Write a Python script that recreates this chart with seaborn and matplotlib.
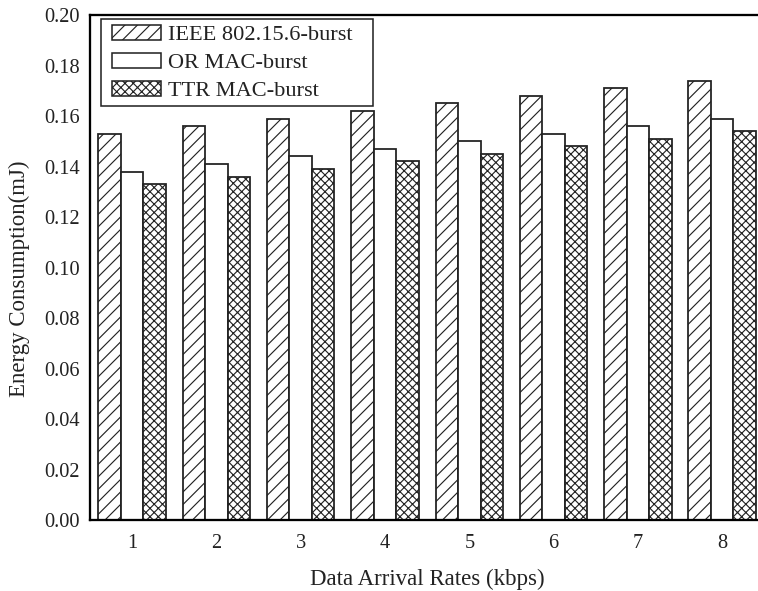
import numpy as np
import pandas as pd
import seaborn as sns
import matplotlib
matplotlib.use("Agg")
import matplotlib.pyplot as plt
from matplotlib.patches import Patch, Rectangle
from matplotlib.ticker import MultipleLocator, FormatStrFormatter

rates = ["1", "2", "3", "4", "5", "6", "7", "8"]
series_names = ["IEEE 802.15.6-burst", "OR MAC-burst", "TTR MAC-burst"]
ieee = [0.153, 0.156, 0.159, 0.162, 0.165, 0.168, 0.171, 0.174]
ormac = [0.138, 0.141, 0.144, 0.147, 0.150, 0.153, 0.156, 0.159]
ttr = [0.133, 0.136, 0.139, 0.142, 0.145, 0.148, 0.151, 0.154]
hatches = ["//", "", "xxx"]

df = pd.DataFrame({
    "rate": rates * 3,
    "energy": ieee + ormac + ttr,
    "series": sum([[s] * len(rates) for s in series_names], []),
})

sns.set_theme(style="white")
plt.rcParams["font.family"] = ["Liberation Serif", "DejaVu Serif"]
plt.rcParams["hatch.linewidth"] = 1.1
plt.rcParams["hatch.color"] = "black"

DPI = 75
W, H = 758, 591
fig = plt.figure(figsize=(W / DPI, H / DPI), dpi=DPI)
ax = fig.add_axes([0.1187, 0.1201, 0.8897, 0.8545])

sns.barplot(data=df, x="rate", y="energy", hue="series", order=rates,
            hue_order=series_names, palette=["white"] * 3, edgecolor="black",
            linewidth=1.7, saturation=1, width=0.8, ax=ax, legend=False)

for container, h in zip(ax.containers, hatches):
    for bar in container:
        bar.set_hatch(h)
        bar.set_edgecolor("#222222")

ax.set_xlim(-0.5, 7.5)
ax.set_ylim(0, 0.20)
ax.yaxis.set_major_locator(MultipleLocator(0.02))
ax.yaxis.set_minor_locator(MultipleLocator(0.01))
ax.yaxis.set_major_formatter(FormatStrFormatter("%.2f"))
ax.xaxis.set_minor_locator(MultipleLocator(0.5))

ax.tick_params(axis="both", which="major", direction="in", length=10, width=1.8,
               labelsize=19.5, color="black", labelcolor="#222222")
ax.tick_params(axis="both", which="minor", direction="in", length=5, width=1.8,
               color="black")
ax.tick_params(top=False, right=False, which="both")
ax.tick_params(axis="y", which="major", pad=10)
ax.tick_params(axis="x", which="major", pad=13)
for sp in ax.spines.values():
    sp.set_linewidth(2.2)
    sp.set_color("black")

ax.set_xlabel("Data Arrival Rates (kbps)", fontsize=22, color="#222222", labelpad=16)
ax.set_ylabel("Energy Consumption(mJ)", fontsize=22, color="#222222")
ax.yaxis.set_label_coords(-0.089, 0.477)

handles = [Patch(facecolor="white", edgecolor="#222222", hatch=h, linewidth=1.5)
           for h in hatches]
frame = Rectangle((101 / W, 1 - 106 / H), (373 - 101) / W, (106 - 19) / H,
                  transform=fig.transFigure, facecolor="white",
                  edgecolor="#222222", linewidth=1.5, zorder=4, clip_on=False)
ax.add_artist(frame)
leg = ax.legend(handles, series_names, loc="upper left", fontsize=21.5,
                frameon=False,
                handlelength=2.2, handleheight=0.7, handletextpad=0.3,
                labelspacing=0.33, borderpad=0.25, borderaxespad=0,
                bbox_to_anchor=(106 / W, 1 - 19 / H), bbox_transform=fig.transFigure)
leg.set_zorder(5)
for t in leg.get_texts():
    t.set_color("#222222")

fig.savefig("out.png", dpi=DPI, facecolor="white")
